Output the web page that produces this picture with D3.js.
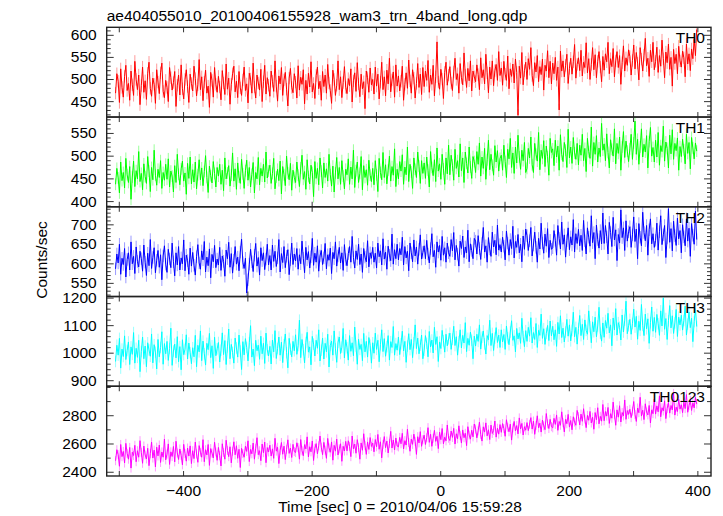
<!DOCTYPE html>
<html>
<head>
<meta charset="utf-8">
<script src="https://cdn.jsdelivr.net/npm/d3@7"></script>
<style>
  html, body { margin: 0; padding: 0; background: #fff; }
  svg text { font-family: "Liberation Sans", Arial, Helvetica, sans-serif; fill: #000; }
</style>
</head>
<body>
<svg id="chart" width="723" height="516"></svg>
<script>
// ---------------- DATA ----------------
const titleText = "ae404055010_20100406155928_wam3_trn_4band_long.qdp";
const xTitle = "Time [sec] 0 = 2010/04/06 15:59:28";
const yTitle = "Counts/sec";
const panelNames = ["TH0", "TH1", "TH2", "TH3", "TH0123"];
const timeStart = -505;   // first bin (sec)
const timeEnd = 399;      // last bin (sec)
const xTickValues = [-500, -400, -300, -200, -100, 0, 100, 200, 300, 400];
const xTickLabels = [-400, -200, 0, 200, 400];

const th0 = [
468,512,495,447,523,481,459,506,531,474,490,452,518,487,463,540,499,476,509,442,
485,527,470,496,454,513,538,479,461,502,488,445,521,493,467,514,536,472,458,497,
481,449,526,503,475,492,517,438,486,509,464,532,478,455,499,521,483,447,511,490,
473,529,501,462,487,544,476,505,451,493,520,468,484,436,515,497,459,526,488,470,
506,482,453,519,491,465,534,477,502,443,488,512,529,471,495,458,517,480,463,498,
527,474,489,446,513,500,468,536,482,457,509,491,475,522,449,494,531,466,503,486,
461,518,495,472,541,484,450,507,489,526,463,498,515,477,439,502,524,481,469,512,
493,457,530,475,504,488,521,444,497,466,513,482,539,471,490,456,508,527,478,495,
452,517,483,509,468,533,491,474,445,520,499,463,486,541,476,505,458,492,528,481,
467,501,485,523,448,496,514,472,537,489,460,511,478,494,433,518,503,470,525,487,
499,466,527,484,511,455,493,538,476,505,462,520,489,547,471,498,516,459,532,484,
507,473,495,529,452,488,514,479,543,496,468,521,502,457,490,535,481,511,465,526,
483,518,497,542,470,509,488,531,462,505,584,493,477,522,500,456,515,538,486,509,
528,491,474,516,547,499,512,468,535,503,487,559,509,481,524,496,541,473,518,505,
494,532,510,476,548,503,521,489,556,514,469,527,500,541,485,519,533,497,562,508,
525,486,540,511,497,552,478,523,506,534,491,545,515,418,529,502,560,487,519,538,
499,546,522,571,508,485,537,516,553,494,528,510,545,475,531,518,564,503,540,489,
536,512,549,497,527,430,563,518,541,505,531,556,490,524,547,511,539,578,502,533,
548,519,565,507,538,526,582,514,546,499,533,571,521,555,503,540,562,527,494,551,
520,557,539,583,512,546,528,569,505,541,562,526,553,488,537,575,518,548,531,566,
551,509,542,577,523,560,536,498,571,545,518,554,592,530,547,506,565,539,583,521,
540,572,515,553,529,588,546,503,561,537,579,522,549,484,567,535,556,512,574,541,
527,563,548,505,579,534,557,519,568,546,590,553,612];

const th1 = [
437,472,451,418,486,445,463,429,494,458,441,476,404,453,488,432,467,449,509,443,
461,425,482,454,439,498,466,421,474,447,512,457,435,470,452,489,428,463,446,481,
448,493,431,466,455,420,478,441,503,459,436,471,488,444,462,415,483,450,497,438,
469,442,486,427,458,491,447,473,434,465,500,452,419,477,456,440,487,461,431,474,
455,481,437,468,423,495,449,462,478,433,457,506,444,471,426,484,453,439,492,460,
428,467,490,446,474,431,459,485,418,463,449,496,436,472,455,481,442,508,451,466,
479,439,461,494,427,453,470,445,488,416,476,458,434,499,462,447,483,424,468,452,
441,486,457,432,473,501,448,465,426,491,454,438,479,463,410,487,450,472,436,495,
466,429,484,452,471,444,503,458,433,477,420,462,496,449,474,437,489,455,427,470,
458,493,437,475,449,512,430,467,486,441,461,498,425,478,452,469,435,490,457,443,
472,436,489,458,421,494,463,447,507,452,480,438,468,499,444,476,457,515,432,470,
449,487,466,502,437,475,458,519,443,481,464,428,495,470,452,508,477,439,489,461,
484,450,497,468,431,509,474,456,491,443,517,466,482,448,503,471,437,495,460,523,
458,501,479,446,514,472,489,453,526,467,495,441,508,483,462,519,475,450,498,487,
463,509,481,528,455,497,472,516,448,491,534,469,503,479,457,522,486,511,466,494,
501,468,523,487,452,514,493,538,474,506,461,519,484,545,497,470,512,489,529,463,
472,516,495,541,480,463,527,503,488,551,469,512,494,533,476,521,498,457,538,507,
515,478,534,497,521,468,546,503,487,529,512,474,558,495,519,483,540,506,492,527,
480,523,501,547,489,516,465,538,509,494,563,477,529,503,544,486,517,498,571,512,
526,489,548,507,473,535,514,499,559,482,527,505,541,468,519,553,496,532,510,487,
515,547,492,528,576,503,536,481,519,559,497,525,508,544,473,531,562,499,518,486,
534,497,551,479,522,509,565,488,530,516,473,545,504,557,492,527,511,539,468,520,
498,536,513,482,547,505,529,471,540,517,493,528,510];

const th2 = [
586,624,601,649,572,613,597,638,565,610,627,583,655,599,618,574,642,605,591,631,
612,580,647,603,569,626,594,661,587,615,640,576,608,633,590,622,558,619,645,598,
577,636,611,589,652,604,568,627,596,643,583,614,599,660,581,621,607,572,639,593,
628,595,570,617,648,601,585,632,609,656,578,616,594,637,563,623,604,646,589,611,
596,641,582,619,605,567,634,612,654,590,625,575,608,643,598,616,581,629,662,602,
587,613,524,558,598,636,604,579,621,651,593,615,570,640,607,627,584,611,649,596,
620,583,647,605,631,592,614,661,578,625,602,643,589,618,635,571,609,652,597,624,
606,638,585,622,599,657,613,576,641,609,630,588,617,664,595,626,603,645,580,619,
633,597,614,651,586,622,608,639,574,628,612,655,593,619,641,601,627,582,648,610,
594,625,643,603,669,615,588,632,610,649,597,624,577,638,616,604,658,591,627,613,
641,603,626,588,652,617,632,596,663,611,629,585,644,621,607,675,598,635,612,649,
609,638,622,667,596,643,614,631,581,652,627,604,660,619,642,598,636,673,611,628,
645,612,659,624,601,638,676,617,633,590,655,629,646,608,669,621,640,603,652,627,
618,661,632,679,609,646,624,593,657,638,670,615,642,627,685,604,650,633,612,664,
657,624,671,638,610,651,692,629,645,603,666,637,618,680,642,659,622,698,634,648,
629,667,644,609,683,652,621,661,638,695,614,656,641,674,627,649,604,670,636,688,
671,633,658,692,619,647,680,641,603,664,637,703,652,626,675,644,689,615,659,636,
640,684,659,621,697,664,637,706,649,673,616,658,691,635,668,647,712,629,676,651,
687,645,672,633,710,658,624,691,667,644,722,653,679,612,698,661,639,684,650,729,
651,697,668,624,705,679,643,718,660,686,607,674,652,737,666,691,633,709,657,681,
694,641,673,719,656,688,612,702,667,645,731,679,658,697,621,686,714,650,676,641,
659,703,634,681,722,648,673,697,615,665,740,654,689,632,708,671,646,716,663,684,
627,699,668,645,714,657,690,618,702,672,649,734,661];

const th3 = [
968,1027,991,1052,944,1013,986,1061,975,1008,1039,957,1021,994,1073,962,1016,983,1045,931,
1004,1057,978,1024,949,1036,1010,987,1068,963,1029,1002,941,1048,985,1019,1076,958,1033,996,
1041,972,1015,1089,954,1006,1031,981,1058,967,1022,938,1047,993,1012,1065,977,1035,1000,960,
1018,985,1063,949,1027,1003,1079,971,1042,996,955,1034,1011,1070,982,1025,943,1056,989,1014,
1037,966,1009,1072,993,1044,957,1021,1086,978,1030,1001,962,1053,1017,984,1064,1006,939,1040,
992,1051,1019,970,1036,1098,984,1013,953,1045,1007,1027,976,1060,996,1034,961,1071,1010,988,
1023,959,1046,1003,1080,979,1015,1057,991,1038,964,1029,1068,1000,945,1052,1012,985,1041,1007,
1065,994,1026,1118,982,1048,1011,963,1037,1074,1002,1021,956,1059,1031,988,1045,1016,1083,970,
1009,1053,977,1034,1003,1067,948,1026,1042,991,1079,1014,965,1038,1057,997,1020,1088,981,1047,
1018,973,1062,1005,1036,989,1093,1024,958,1049,1012,1030,971,1070,1003,1041,984,1055,1027,962,
1036,998,1071,1012,1045,967,1029,1083,1004,1051,987,1022,1062,973,1040,1019,1095,991,1033,1009,
1057,993,1032,1078,1006,1041,965,1024,1069,1011,1048,982,1036,1101,1015,1053,996,1027,1064,978,
1009,1062,1034,985,1077,1021,1046,999,1092,1030,1058,968,1039,1015,1081,1043,1002,1067,1025,1050,
1071,1012,1049,1096,1026,1058,991,1040,1083,1017,1063,1035,1109,1004,1052,1027,1075,1045,978,1060,
1024,1067,1041,1101,1013,1056,1079,1032,995,1062,1047,1118,1026,1070,1008,1053,1091,1037,1064,1019,
1083,1039,1066,1012,1097,1054,1029,1075,1116,1045,1061,1003,1088,1050,1072,1034,1125,1058,1022,1080,
1041,1092,1060,1127,1035,1073,1048,1106,1019,1081,1063,1140,1052,1087,1030,1070,1099,1044,1115,1061,
1096,1047,1083,1023,1110,1068,1134,1055,1089,1039,1075,1121,1060,1101,1043,1081,1147,1058,1092,1031,
1088,1135,1062,1103,1048,1119,1081,1067,1152,1094,1036,1112,1076,1129,1058,1097,1165,1071,1042,1108,
1056,1117,1089,1143,1072,1101,1025,1126,1083,1160,1064,1109,1092,1046,1137,1075,1118,1187,1069,1098,
1121,1067,1106,1158,1093,1132,1049,1114,1081,1175,1099,1062,1140,1087,1123,1034,1109,1166,1078,1128,
1074,1139,1105,1063,1152,1097,1198,1085,1124,1048,1116,1171,1090,1134,1070,1108,1157,1059,1129,1101,
1136,1082,1117,1169,1064,1104,1148,1091,1125,1040,1113,1160,1095];

const th0123 = [
2478,2556,2521,2439,2593,2507,2544,2462,2601,2530,2489,2572,2426,2538,2515,2587,2471,2549,2503,2620,
2537,2460,2582,2519,2491,2566,2443,2528,2610,2497,2553,2434,2574,2512,2589,2466,2540,2503,2631,2484,
2525,2597,2452,2541,2508,2579,2470,2616,2533,2487,2561,2516,2449,2594,2529,2475,2568,2511,2583,2458,
2549,2493,2610,2526,2467,2585,2538,2503,2627,2471,2556,2519,2593,2445,2564,2532,2498,2609,2540,2481,
2572,2514,2441,2598,2536,2489,2623,2551,2507,2577,2463,2545,2612,2520,2584,2495,2559,2430,2566,2529,
2503,2581,2544,2619,2472,2558,2527,2603,2489,2566,2641,2521,2549,2478,2596,2535,2610,2464,2571,2540,
2588,2511,2562,2495,2637,2546,2573,2458,2552,2607,2524,2581,2486,2559,2626,2530,2568,2501,2594,2543,
2536,2605,2571,2489,2628,2549,2513,2592,2562,2647,2505,2577,2541,2618,2480,2566,2599,2527,2584,2653,
2574,2521,2608,2553,2495,2636,2569,2538,2611,2482,2587,2546,2631,2519,2562,2598,2474,2580,2547,2615,
2548,2619,2580,2507,2653,2562,2596,2531,2627,2570,2489,2604,2552,2669,2585,2523,2611,2558,2642,2579,
2603,2541,2628,2577,2664,2559,2612,2498,2594,2649,2570,2617,2533,2601,2686,2568,2625,2554,2639,2582,
2576,2643,2598,2672,2561,2620,2589,2701,2607,2545,2631,2594,2666,2615,2523,2648,2604,2684,2580,2627,
2659,2593,2641,2712,2608,2665,2580,2637,2693,2615,2651,2564,2680,2627,2706,2598,2644,2619,2731,2637,
2621,2688,2643,2707,2596,2669,2634,2725,2658,2603,2696,2641,2672,2585,2719,2660,2631,2694,2647,2738,
2702,2640,2689,2751,2663,2617,2718,2681,2746,2654,2697,2628,2730,2671,2692,2759,2645,2708,2666,2734,
2679,2741,2706,2651,2768,2715,2683,2737,2624,2710,2756,2689,2727,2668,2781,2703,2742,2660,2719,2694,
2748,2691,2737,2783,2702,2759,2665,2728,2796,2711,2744,2681,2766,2725,2698,2812,2739,2706,2771,2719,
2711,2778,2735,2802,2693,2756,2729,2824,2747,2682,2771,2740,2806,2716,2763,2697,2789,2752,2729,2834,
2790,2731,2808,2757,2846,2773,2712,2799,2764,2827,2745,2786,2701,2819,2768,2853,2739,2792,2758,2876,
2761,2826,2794,2855,2742,2811,2779,2893,2803,2729,2838,2786,2867,2752,2819,2795,2908,2771,2833,2806,
2842,2783,2829,2897,2805,2756,2851,2818,2927,2794,2836,2769,2881,2823,2802,2869,2745,2838,2811,2915,
2808,2866,2824,2937,2789,2853,2831,2902,2776,2847,2891,2815,2869,2838,2954,2801,2857,2826,2912,2843,
2874,2818,2893,2847,2946,2821,2868,2905,2834,2887,2852,2926,2879];

const errBars = [14, 13, 16, 21, 32];   // typical 1-sigma error per panel (counts/sec)

const yTickLabels = [
  [450, 500, 550, 600],
  [400, 450, 500, 550],
  [550, 600, 650, 700],
  [900, 1000, 1100, 1200],
  [2400, 2600, 2800]
];
const yMinorStep = [10, 10, 10, 20, 100];
const yDomains = [[414, 617], [387.5, 585], [515, 745], [878, 1204], [2370, 3005]];
const colors = ["#ff0000", "#00ff00", "#0000ff", "#00ffff", "#ff00ff"];
const series = [th0, th1, th2, th3, th0123];

// ---------------- LAYOUT ----------------
const svg = d3.select("#chart");
const pLeft = 106.7, pRight = 711, pTop = 27.3, pBottom = 476;
const nP = series.length;
const ph = (pBottom - pTop) / nP;
const fontSize = 15.5;

const x = d3.scaleLinear().domain([-518.8, 421.2]).range([pLeft, pRight]);

svg.append("text").attr("x", pLeft).attr("y", 20.5)
  .attr("font-size", fontSize).text(titleText);

const defs = svg.append("defs");

series.forEach((vals, i) => {
  const y0 = pTop + i * ph, y1 = y0 + ph;
  const y = d3.scaleLinear().domain(yDomains[i]).range([y1, y0]);
  const n = vals.length;
  const tAt = j => timeStart + j * (timeEnd - timeStart) / (n - 1);
  const pts = vals.map((v, j) => ({ t: tAt(j), v }));

  defs.append("clipPath").attr("id", "clip" + i)
    .append("rect").attr("x", pLeft).attr("y", y0).attr("width", pRight - pLeft).attr("height", ph);

  const g = svg.append("g").attr("clip-path", `url(#clip${i})`);
  g.selectAll("line.err").data(pts).join("line")
    .attr("class", "err")
    .attr("x1", d => x(d.t)).attr("x2", d => x(d.t))
    .attr("y1", d => y(d.v - errBars[i])).attr("y2", d => y(d.v + errBars[i]))
    .attr("stroke", colors[i]).attr("stroke-opacity", 0.4).attr("stroke-width", 1);
  g.append("path").datum(pts)
    .attr("d", d3.line().x(d => x(d.t)).y(d => y(d.v)))
    .attr("fill", "none").attr("stroke", colors[i]).attr("stroke-width", 1);

  const [d0, d1] = yDomains[i];
  const minorVals = d3.range(Math.ceil(d0 / yMinorStep[i]) * yMinorStep[i], d1, yMinorStep[i])
    .filter(v => !yTickLabels[i].includes(v));
  const ax = svg.append("g").attr("class", "axes");
  ax.append("g").attr("transform", `translate(${pLeft},0)`)
    .call(d3.axisLeft(y).tickValues(minorVals).tickSize(-4).tickFormat(""));
  ax.append("g").attr("transform", `translate(${pRight},0)`)
    .call(d3.axisRight(y).tickValues(minorVals).tickSize(-4).tickFormat(""));
  ax.append("g").attr("transform", `translate(${pLeft},0)`)
    .call(d3.axisLeft(y).tickValues(yTickLabels[i]).tickSize(-7).tickPadding(10).tickFormat(d3.format("d")));
  ax.append("g").attr("transform", `translate(${pRight},0)`)
    .call(d3.axisRight(y).tickValues(yTickLabels[i]).tickSize(-7).tickFormat(""));
  ax.append("g").attr("transform", `translate(0,${y0})`)
    .call(d3.axisTop(x).tickValues(xTickValues).tickSize(-5).tickFormat(""));
  const bx = ax.append("g").attr("transform", `translate(0,${y1})`);
  if (i === nP - 1) {
    bx.call(d3.axisBottom(x).tickValues(xTickValues).tickSize(-5).tickPadding(9)
      .tickFormat(d => xTickLabels.includes(d) ? d3.format("d")(d).replace("-", "\u2212") : ""));
  } else {
    bx.call(d3.axisBottom(x).tickValues(xTickValues).tickSize(-5).tickFormat(""));
  }

  svg.append("text").attr("x", 705).attr("y", y0 + 16)
    .attr("text-anchor", "end").attr("font-size", fontSize).text(panelNames[i]);

  svg.append("rect").attr("x", pLeft).attr("y", y0).attr("width", pRight - pLeft).attr("height", ph)
    .attr("fill", "none").attr("stroke", "#222").attr("stroke-width", 1.4);
});

svg.selectAll(".axes path.domain").remove();
svg.selectAll(".axes .tick line").attr("stroke", "#333").attr("stroke-width", 1);
svg.selectAll(".axes .tick text").attr("font-size", fontSize)
  .attr("font-family", "Liberation Sans, Arial, sans-serif").attr("fill", "#000");

svg.append("text").attr("x", 400).attr("y", 511.5)
  .attr("text-anchor", "middle").attr("font-size", fontSize).text(xTitle);

svg.append("text").attr("transform", "translate(47,260) rotate(-90)")
  .attr("text-anchor", "middle").attr("font-size", fontSize).text(yTitle);
</script>
</body>
</html>
